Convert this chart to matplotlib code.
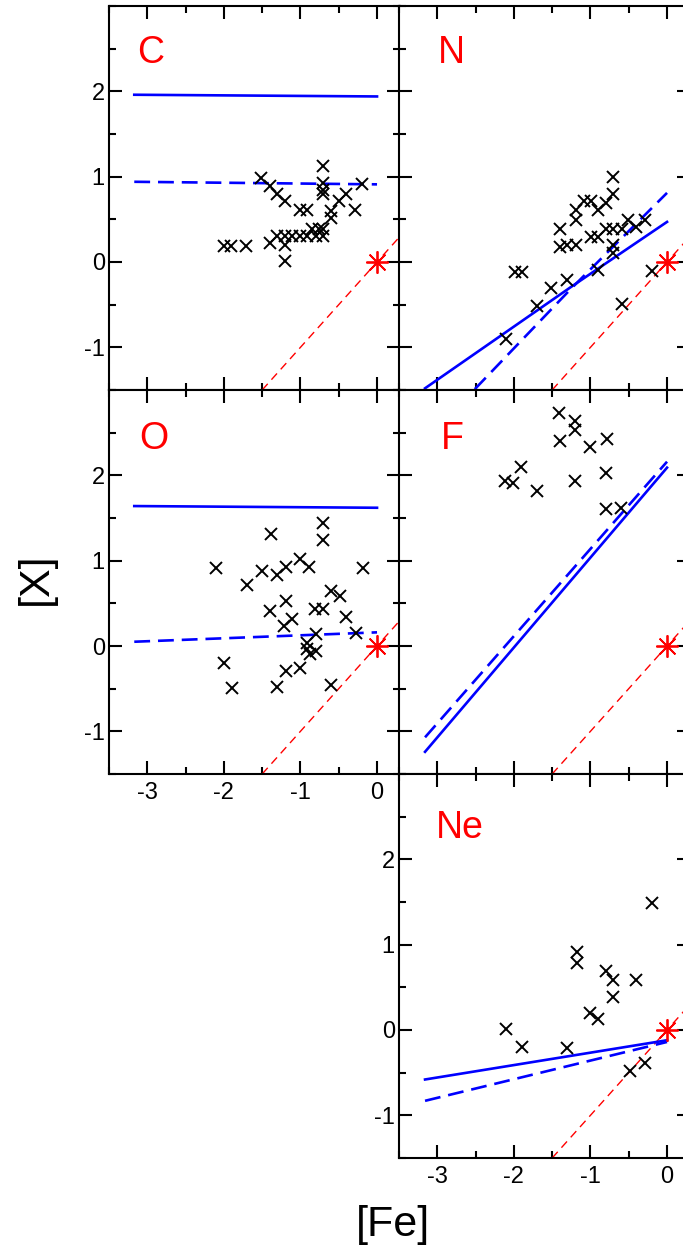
import numpy as np
import matplotlib
matplotlib.use("Agg")
import matplotlib.pyplot as plt
from matplotlib.ticker import MultipleLocator

plt.rcParams['font.family'] = ['Liberation Sans', 'DejaVu Sans']
plt.rcParams['axes.unicode_minus'] = False

# observed abundances ([Fe], [X]) per element
c_fe = [-2.00, -1.91, -1.71, -1.52, -1.40, -1.30, -1.20, -1.40, -1.30, -1.20, -1.20, -1.20,
        -1.11, -1.01, -1.01, -0.91, -0.91, -0.85, -0.80, -0.76, -0.70, -0.70, -0.70, -0.70,
        -0.70, -0.70, -0.60, -0.60, -0.50, -0.41, -0.29, -0.19]
c_x = [0.19, 0.19, 0.19, 0.98, 0.89, 0.80, 0.71, 0.22, 0.30, 0.30, 0.20, 0.01,
       0.31, 0.31, 0.61, 0.61, 0.31, 0.39, 0.31, 0.39, 0.31, 0.39, 1.12, 0.93,
       0.84, 0.80, 0.51, 0.60, 0.71, 0.80, 0.61, 0.91]

n_fe = [-1.99, -1.90, -2.10, -1.70, -1.51, -1.30, -1.40, -1.40, -1.30, -1.19, -1.19, -1.19,
        -1.09, -0.99, -0.90, -0.80, -0.70, -0.70, -0.99, -0.90, -0.80, -0.70, -0.59, -0.51,
        -0.40, -0.29, -0.70, -0.70, -0.90, -0.59, -0.19]
n_x = [-0.12, -0.12, -0.90, -0.51, -0.30, -0.21, 0.39, 0.18, 0.20, 0.20, 0.49, 0.61,
       0.71, 0.71, 0.61, 0.69, 0.80, 1.00, 0.29, 0.29, 0.39, 0.39, 0.39, 0.49,
       0.41, 0.49, 0.20, 0.10, -0.09, -0.49, -0.10]

o_fe = [-2.10, -2.00, -1.89, -1.70, -1.50, -1.39, -1.30, -1.19, -1.19, -1.40, -1.11, -1.22,
        -1.19, -1.30, -1.01, -0.89, -1.01, -0.81, -0.71, -0.70, -0.71, -0.60, -0.49, -0.41,
        -0.28, -0.18, -0.80, -0.91, -0.91, -0.88, -0.80, -0.60]
o_x = [0.91, -0.20, -0.49, 0.71, 0.88, 1.31, 0.83, 0.92, 0.53, 0.41, 0.32, 0.24,
       -0.29, -0.48, 1.02, 0.92, -0.26, 0.43, 0.43, 1.44, 1.24, 0.64, 0.59, 0.34,
       0.15, 0.91, 0.14, 0.04, -0.04, -0.09, -0.06, -0.46]

f_fe = [-1.41, -1.20, -1.20, -1.40, -1.00, -0.79, -1.91, -2.12, -2.01, -1.70, -1.20, -0.80,
        -0.80, -0.60]
f_x = [2.73, 2.64, 2.53, 2.40, 2.33, 2.43, 2.10, 1.93, 1.91, 1.82, 1.93, 2.03, 1.60, 1.62]

ne_fe = [-2.10, -1.90, -1.30, -1.18, -1.18, -0.80, -0.70, -0.70, -1.00, -0.90, -0.40, -0.19,
         -0.49, -0.29]
ne_x = [0.01, -0.20, -0.21, 0.91, 0.79, 0.69, 0.59, 0.39, 0.20, 0.13, 0.59, 1.49, -0.48, -0.39]

# model tracks (solid and dashed)
c_solid_fe, c_solid_x = [-3.17, 0.0], [1.96, 1.94]
c_dash_fe, c_dash_x = [-3.17, 0.0], [0.94, 0.91]
n_solid_fe, n_solid_x = [-3.16, -1.25, 0.0], [-1.48, -0.29, 0.47]
n_dash_fe, n_dash_x = [-2.51, -1.25, 0.0], [-1.49, -0.31, 0.81]
o_solid_fe, o_solid_x = [-3.17, 0.0], [1.64, 1.62]
o_dash_fe, o_dash_x = [-3.17, 0.0], [0.05, 0.16]
f_solid_fe, f_solid_x = [-3.16, 0.0], [-1.24, 2.09]
f_dash_fe, f_dash_x = [-3.16, 0.0], [-1.07, 2.16]
ne_solid_fe, ne_solid_x = [-3.16, 0.0], [-0.58, -0.12]
ne_dash_fe, ne_dash_x = [-3.16, 0.0], [-0.83, -0.14]

sun_line = [-1.5, 0.3]

panels = [
    ("C", c_fe, c_x, c_solid_fe, c_solid_x, c_dash_fe, c_dash_x, -3.13, 2.45),
    ("N", n_fe, n_x, n_solid_fe, n_solid_x, n_dash_fe, n_dash_x, -2.99, 2.45),
    ("O", o_fe, o_x, o_solid_fe, o_solid_x, o_dash_fe, o_dash_x, -3.10, 2.42),
    ("F", f_fe, f_x, f_solid_fe, f_solid_x, f_dash_fe, f_dash_x, -2.95, 2.42),
    ("Ne", ne_fe, ne_x, ne_solid_fe, ne_solid_x, ne_dash_fe, ne_dash_x, -3.02, 2.37),
]

W, H = 683, 1253
fig = plt.figure(figsize=(W / 100, H / 100), dpi=100)

col_x = [109, 399]
col_w = 291
row_top = [6, 390, 774]
row_h = 384
slots = [(0, 0), (0, 1), (1, 0), (1, 1), (2, 1)]

for (name, fe, x, sfe, sx, dfe, dx, lx, ly), (r, c) in zip(panels, slots):
    ax = fig.add_axes([col_x[c] / W, 1 - (row_top[r] + row_h) / H, col_w / W, row_h / H])
    ax.plot(sun_line, sun_line, color='red', lw=1.0, ls=(0, (6, 4)))
    ax.plot(sfe, sx, color='blue', lw=1.9)
    ax.plot(dfe, dx, color='blue', lw=1.9, ls=(0, (6, 3)))
    ax.plot(fe, x, 'x', color='black', ms=8, mew=1.4)
    ax.plot([0], [0], marker=(8, 2, 0), color='red', ms=16, mew=1.3, clip_on=False)
    ax.text(lx, ly, name, color='red', fontsize=27, ha='left', va='center')

    ax.set_xlim(-3.5, 0.3)
    ax.set_ylim(-1.5, 3.0)
    ax.xaxis.set_major_locator(MultipleLocator(1))
    ax.xaxis.set_minor_locator(MultipleLocator(0.5))
    ax.yaxis.set_major_locator(MultipleLocator(1))
    ax.yaxis.set_minor_locator(MultipleLocator(0.5))
    ax.tick_params(which='both', direction='in', top=True, right=True, width=1.5)
    ax.tick_params(which='major', length=9.5)
    ax.tick_params(which='minor', length=5)
    ax.tick_params(axis='x', labelsize=17, pad=6)
    ax.tick_params(axis='y', labelsize=17, pad=3)
    ax.set_yticks([-1, 0, 1, 2])
    for s in ax.spines.values():
        s.set_linewidth(1.5)

    show_x = (r, c) in [(1, 0), (2, 1)]
    show_y = c == 0 or r == 2
    if not show_x:
        ax.tick_params(axis='x', labelbottom=False)
    if not show_y:
        ax.tick_params(axis='y', labelleft=False)

fig.text(36 / W, 1 - 579 / H, '[X]', fontsize=31, rotation=90, ha='center', va='center')
fig.text(393 / W, 1 - 1225 / H, '[Fe]', fontsize=31, ha='center', va='center')

fig.savefig('out.png', dpi=100)
